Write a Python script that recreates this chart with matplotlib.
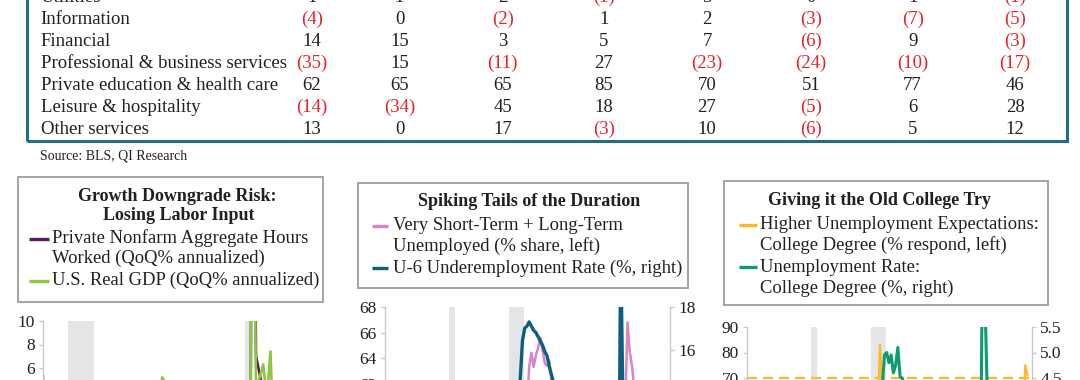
import pandas as pd
import matplotlib
matplotlib.use("Agg")
import matplotlib.pyplot as plt
from matplotlib.patches import Rectangle
from matplotlib.lines import Line2D
from matplotlib.ticker import MultipleLocator, FormatStrFormatter

plt.rcParams["font.family"] = ["Liberation Serif", "DejaVu Serif"]

# ---------------- table (job gains by sector, thousands) ----------------
sectors = ["Utilities", "Information", "Financial", "Professional & business services",
           "Private education & health care", "Leisure & hospitality", "Other services"]
utilities = [1, 1, 2, -1, 3, 0, 1, -1]
information = [-4, 0, -2, 1, 2, -3, -7, -5]
financial = [14, 15, 3, 5, 7, -6, 9, -3]
prof_business = [-35, 15, -11, 27, -23, -24, -10, -17]
educ_health = [62, 65, 65, 85, 70, 51, 77, 46]
leisure = [-14, -34, 45, 18, 27, -5, 6, 28]
other_services = [13, 0, 17, -3, 10, -6, 5, 12]
table_rows = [utilities, information, financial, prof_business, educ_health, leisure, other_services]
source_note = "Source: BLS, QI Research"

# ---------------- panel 1: quarterly, 2006Q1 - 2025Q1 ----------------
p1_quarters = pd.period_range("2006Q1", "2025Q1", freq="Q")
hours_worked = [2.5, 1.8, 1.0, 1.5,  1.0, 0.8, 0.2, 0.5,  -0.8, -2.5, -3.0, -6.5,
                -9.0, -7.5, -4.0, -1.5,  1.5, 3.0, 1.5, 2.0,  2.5, 2.0, 1.5, 2.0,
                3.0, 1.0, 1.5, 2.0,  2.5, 1.5, 2.0, 1.5,  1.5, 3.0, 2.5, 3.0,
                2.0, 1.5, 1.0, 1.5,  1.5, 0.5, 1.5, 1.0,  1.5, 1.5, 1.0, 2.0,
                2.0, 2.0, 1.5, 1.5,  1.0, 0.5, 0.5, 1.0,  -5.0, -45.0, 45.0, 7.0,
                5.5, 4.0, 4.5, 4.5,  3.0, 2.0, 1.5, 1.0,  1.0, 1.0, 1.0, 0.5,
                0.5, 1.0, 0.5, 0.5,  0.5]
real_gdp = [5.4, 0.9, 0.6, 3.5,  0.9, 2.3, 2.2, 2.5,  -1.6, 2.3, -2.1, -8.5,
            -4.6, -0.7, 1.5, 4.5,  1.5, 3.7, 3.0, 2.0,  -1.0, 2.9, -0.1, 4.7,
            3.2, 1.7, 0.5, 0.5,  3.6, 0.5, 3.2, 3.2,  -1.1, 5.2, 4.7, 2.3,
            3.3, 3.3, 1.0, 0.4,  2.4, 1.2, 2.4, 2.0,  2.0, 2.3, 3.2, 4.6,
            3.3, 2.1, 2.5, 0.7,  2.2, 3.4, 4.6, 2.6,  -5.5, -28.0, 34.8, 4.2,
            5.2, 6.3, 3.3, 7.4,  -1.0, 0.3, 2.7, 3.4,  2.8, 2.4, 4.4, 3.2,
            1.6, 3.0, 3.1, 2.4,  -0.5]
p1_recessions = [(2007.75, 2009.5), (2020.0, 2020.5)]

# ---------------- panels 2 and 3: quarterly, 1994Q1 - 2025Q2 ----------------
p23_quarters = pd.period_range("1994Q1", "2025Q2", freq="Q")
tails_share = [54, 54, 55, 55,  54, 54, 53, 53,  53, 53, 53, 53,  53, 53, 52, 52,
               52, 51, 52, 52,  52, 52, 52, 52,  53, 54, 55, 56,  56, 56, 55, 53,
               51, 51, 51, 52,  52, 53, 54, 54,  54, 53, 53, 53,  53, 52, 52, 52,
               52, 51, 51, 51,  51, 51, 51, 51,  51, 50, 50, 51,  52, 54, 57, 60,
               63.3, 64.4, 63.3, 64.2,  64.8, 65.6, 64.6, 63.6,  63.4, 63.8, 62.1, 61.2,
               61, 61, 60, 60,  59, 58, 57, 56,  56, 55, 55, 54,  54, 54, 54, 54,
               54, 54, 54, 54,  55, 55, 55, 55,  55, 55, 55, 55,  58, 63.8, 55, 60,
               66.8, 64.5, 63.4, 61.6,  58, 56, 55, 55,  55, 55, 55, 55,  55, 55, 55, 55,
               55, 55]
u6_rate = [11.8, 11.0, 10.8, 10.2,  10.0, 10.1, 10.1, 10.0,  9.8, 9.8, 9.5, 9.4,
           9.3, 8.9, 8.8, 8.5,  8.4, 8.0, 7.9, 7.6,  7.6, 7.5, 7.3, 7.1,
           7.1, 7.0, 7.0, 6.9,  7.4, 7.8, 8.4, 9.4,  9.5, 9.6, 9.6, 9.7,
           10.0, 10.2, 10.2, 9.9,  9.9, 9.6, 9.5, 9.4,  9.2, 8.9, 8.9, 8.7,
           8.4, 8.3, 8.2, 8.0,  8.1, 8.3, 8.4, 8.6,  9.1, 9.9, 11.0, 12.7,
           14.6, 16.4, 17.0, 17.1,  17.3, 17.1, 16.9, 16.8,  16.6, 16.4, 16.2, 15.9,
           15.7, 15.2, 14.8, 14.4,  14.3, 13.9, 13.7, 13.5,  12.6, 12.2, 11.9, 11.4,
           11.0, 10.6, 10.2, 9.9,  9.8, 9.7, 9.7, 9.4,  9.0, 8.6, 8.4, 8.1,
           8.1, 7.8, 7.5, 7.5,  7.5, 7.2, 7.0, 6.8,  7.6, 20.7, 13.0, 11.8,
           11.2, 10.0, 8.8, 7.6,  7.1, 6.8, 6.7, 6.7,  6.8, 6.8, 7.0, 7.1,
           7.3, 7.4, 7.8, 7.6,  7.9, 7.8]
unemp_expect_college = [30, 28, 27, 29,  31, 33, 32, 31,  30, 29, 28, 28,  26, 25, 25, 24,
                        26, 28, 33, 35,  29, 27, 27, 26,  27, 28, 31, 36,  48, 52, 55, 62,
                        50, 44, 45, 46,  48, 45, 40, 35,  32, 31, 31, 30,  33, 35, 40, 41,
                        35, 36, 37, 33,  34, 35, 39, 42,  47, 52, 56, 83,  65, 54, 44, 40,
                        37, 34, 38, 38,  35, 40, 50, 45,  38, 36, 39, 38,  37, 33, 31, 32,
                        30, 28, 28, 27,  26, 26, 27, 28,  28, 29, 30, 33,  29, 27, 26, 26,
                        26, 27, 28, 29,  33, 32, 35, 32,  40, 55, 42, 38,  33, 30, 33, 34,
                        38, 44, 45, 45,  44, 42, 40, 38,  36, 35, 38, 42,  75, 71]
unemp_rate_college = [3.0, 2.9, 2.8, 2.7,  2.5, 2.5, 2.4, 2.4,  2.3, 2.2, 2.2, 2.1,
                      2.1, 2.0, 2.0, 1.9,  1.8, 1.8, 1.9, 1.9,  1.9, 1.9, 1.8, 1.8,
                      1.8, 1.7, 1.7, 1.7,  2.0, 2.1, 2.4, 2.8,  2.9, 2.9, 3.0, 3.1,
                      3.1, 3.1, 3.2, 3.0,  3.0, 2.9, 2.7, 2.6,  2.4, 2.4, 2.4, 2.4,
                      2.2, 2.1, 2.0, 2.0,  2.1, 2.0, 2.1, 2.1,  2.1, 2.3, 2.6, 3.2,
                      4.3, 4.95, 5.0, 4.8,  4.95, 4.6, 4.75, 5.1,  4.52, 4.5, 4.3, 4.2,
                      4.1, 4.0, 4.1, 3.9,  3.8, 3.8, 3.5, 3.4,  3.3, 3.3, 3.1, 2.9,
                      2.8, 2.7, 2.5, 2.5,  2.5, 2.5, 2.5, 2.4,  2.5, 2.4, 2.3, 2.1,
                      2.2, 2.1, 2.1, 2.1,  2.1, 2.2, 2.1, 2.0,  2.6, 7.6, 6.0, 4.2,
                      3.9, 3.5, 3.0, 2.4,  2.1, 2.1, 2.1, 2.0,  2.1, 2.0, 2.1, 2.2,
                      2.2, 2.3, 2.4, 2.4,  2.5, 2.6]
expect_ref_level = 70
recessions = [(2001.17, 2001.83), (2007.92, 2009.5), (2020.08, 2020.33)]

# ---------------- colours ----------------
text_dark = "#231f20"
neg_red = "#e8202a"
table_blue = "#1f6d8c"
box_grey = "#a3a3a3"
spine_grey = "#c9c9c9"
rec_grey = "#e4e5e7"
purple = "#5a1a6b"
lime = "#8dc63f"
pink = "#d884c6"
teal = "#0d5f82"
gold = "#fbb829"
green = "#0d9b70"

W, H = 1080, 380
fig = plt.figure(figsize=(W / 100, H / 100), dpi=100)


def ftext(x, y, s, **kw):
    kw.setdefault("color", text_dark)
    kw.setdefault("va", "center")
    fig.text(x / W, 1 - y / H, s, **kw)


def legend_box(x0, x1, y0, y1):
    fig.add_artist(Rectangle((x0 / W, 1 - y1 / H), (x1 - x0) / W, (y1 - y0) / H,
                             transform=fig.transFigure, facecolor="white",
                             edgecolor=box_grey, lw=1.4))


def handle(x0, x1, y, color):
    fig.add_artist(Line2D([x0 / W, x1 / W], [1 - y / H, 1 - y / H],
                          transform=fig.transFigure, color=color, lw=2.4,
                          solid_capstyle="butt"))


# table frame and cells
fig.add_artist(Rectangle((26.5 / W, 1 - 140.5 / H), (1067 - 26.5) / W, 0.5,
                         transform=fig.transFigure, facecolor="none",
                         edgecolor=table_blue, lw=2.2, clip_on=False))
col_x = [312, 399.5, 502.8, 603.7, 707, 811, 912.6, 1015.2]
row_y0, row_dy = -2.6, 22.0
for i, (name, vals) in enumerate(zip(sectors, table_rows)):
    y = row_y0 + i * row_dy
    ftext(40.6, y, name, fontsize=13.5, ha="left")
    for x, v in zip(col_x, vals):
        if v < 0:
            ftext(x, y, f"({abs(v)})", fontsize=13.5, ha="center", color=neg_red)
        else:
            ftext(x, y, str(v), fontsize=13.5, ha="center")
ftext(39.6, 155.6, source_note, fontsize=10, ha="left")


def make_axes(left, right, top, height):
    return fig.add_axes([left / W, 1 - (top + height) / H, (right - left) / W, height / H])


def style(ax, side):
    for s in ["top", "bottom", "left", "right"]:
        ax.spines[s].set_visible(s == side)
    ax.spines[side].set_color(spine_grey)
    ax.spines[side].set_linewidth(1.0)
    ax.tick_params(axis="y", which="both", colors=spine_grey, labelcolor=text_dark,
                   length=3, width=1, labelsize=12.5, pad=3,
                   left=(side == "left"), labelleft=(side == "left"),
                   right=(side == "right"), labelright=(side == "right"))
    ax.tick_params(axis="x", bottom=False, labelbottom=False)
    ax.patch.set_visible(False)


def dec_year(q, offset):
    return q.year + (q.quarter - 1) / 4 + offset


# ---------------- panel 1 ----------------
legend_box(18, 323, 176.7, 301.7)
ftext(177, 196, "Growth Downgrade Risk:", fontsize=13, ha="center", fontweight="bold")
ftext(179, 216, "Losing Labor Input", fontsize=13, ha="center", fontweight="bold")
handle(29.3, 49.3, 239, purple)
ftext(51.7, 238, "Private Nonfarm Aggregate Hours", fontsize=13.4, ha="left")
ftext(51.7, 258.5, "Worked (QoQ% annualized)", fontsize=13.4, ha="left")
handle(29.3, 49.3, 281, lime)
ftext(51.7, 280.5, "U.S. Real GDP (QoQ% annualized)", fontsize=13.4, ha="left")

ax1 = make_axes(43, 321, 321, 235)
t1 = dec_year(p1_quarters, 0.0)
for a, b in p1_recessions:
    ax1.axvspan(a, b, color=rec_grey, lw=0, zorder=0)
ax1.plot(t1, hours_worked, color=purple, lw=1.9)
ax1.plot(t1, real_gdp, color=lime, lw=1.9)
ax1.set_xlim(2006.0, 2025.25)
ax1.set_ylim(-10, 10)
ax1.yaxis.set_major_locator(MultipleLocator(2))
style(ax1, "left")

# ---------------- panel 2 ----------------
legend_box(358.3, 688.3, 182.7, 288.3)
ftext(529.5, 201.7, "Spiking Tails of the Duration", fontsize=13, ha="center", fontweight="bold")
handle(371.7, 388.3, 226, pink)
ftext(393.3, 225.5, "Very Short-Term + Long-Term", fontsize=13.4, ha="left")
ftext(393.3, 246, "Unemployed (% share, left)", fontsize=13.4, ha="left")
handle(371.7, 388.3, 268.3, teal)
ftext(393.3, 268, "U-6 Underemployment Rate (%, right)", fontsize=13.4, ha="left")

t23 = dec_year(p23_quarters, 0.125)
ax2 = make_axes(385, 670, 307, 255)
for a, b in recessions:
    ax2.axvspan(a, b, color=rec_grey, lw=0, zorder=0)
ax2.plot(t23, tails_share, color=pink, lw=1.8)
ax2.set_xlim(1994.0, 2025.88)
ax2.set_ylim(48, 68)
ax2.yaxis.set_major_locator(MultipleLocator(2))
style(ax2, "left")
ax2r = ax2.twinx()
ax2r.plot(t23, u6_rate, color=teal, lw=2.4)
ax2r.set_ylim(6, 18)
ax2r.yaxis.set_major_locator(MultipleLocator(2))
style(ax2r, "right")

# ---------------- panel 3 ----------------
legend_box(724.3, 1048.3, 180.7, 305)
ftext(879.5, 200.7, "Giving it the Old College Try", fontsize=13, ha="center", fontweight="bold")
handle(739, 756.7, 225, gold)
ftext(760, 224.5, "Higher Unemployment Expectations:", fontsize=13.4, ha="left")
ftext(760, 245, "College Degree (% respond, left)", fontsize=13.4, ha="left")
handle(739, 756.7, 267.3, green)
ftext(760, 267, "Unemployment Rate:", fontsize=13.4, ha="left")
ftext(760, 288, "College Degree (%, right)", fontsize=13.4, ha="left")

ax3 = make_axes(747, 1032, 327, 229.5)
for a, b in recessions:
    ax3.axvspan(a, b, color=rec_grey, lw=0, zorder=0)
ax3.axhline(expect_ref_level, color=gold, lw=1.6, dashes=(4.5, 2.7))
ax3.plot(t23, unemp_expect_college, color=gold, lw=1.6)
ax3.set_xlim(1994.0, 2025.88)
ax3.set_ylim(0, 90)
ax3.yaxis.set_major_locator(MultipleLocator(10))
style(ax3, "left")
ax3r = ax3.twinx()
ax3r.plot(t23, unemp_rate_college, color=green, lw=2.2)
ax3r.set_ylim(1.0, 5.5)
ax3r.yaxis.set_major_locator(MultipleLocator(0.5))
ax3r.yaxis.set_major_formatter(FormatStrFormatter("%.1f"))
style(ax3r, "right")

fig.savefig("out.png", dpi=100)
